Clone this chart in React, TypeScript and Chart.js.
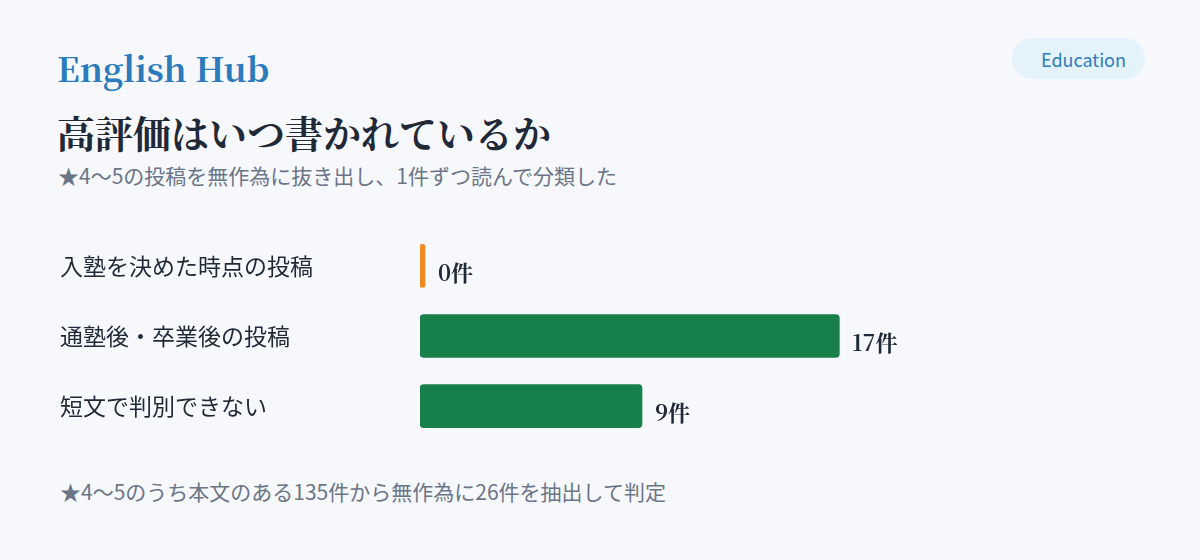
import { useEffect, useRef } from 'react'
import { Chart, registerables } from 'chart.js'

Chart.register(...registerables)

const categories = ['入塾を決めた時点の投稿', '通塾後・卒業後の投稿', '短文で判別できない']
const counts = [0, 17, 9]
const xMax = 30

const SERIF = '"Noto Serif CJK JP", "Noto Serif JP", "Source Han Serif JP", "DejaVu Serif", serif'
const SANS = '"Noto Sans CJK JP", "Noto Sans", sans-serif'

const green = '#177f4a'
const orange = '#f28a22'
const ink = '#1f2937'
const muted = '#6b7588'

// draws "N件" to the right of each bar
const valueLabels = {
  id: 'valueLabels',
  afterDatasetsDraw(chart: Chart) {
    const { ctx } = chart
    const meta = chart.getDatasetMeta(0)
    ctx.save()
    ctx.font = `bold 22px ${SERIF}`
    ctx.fillStyle = ink
    ctx.textAlign = 'left'
    ctx.textBaseline = 'middle'
    meta.data.forEach((bar: any, i) => {
      ctx.fillText(`${counts[i]}件`, bar.x + 13, bar.y + 6.5)
    })
    ctx.restore()
  },
}

function BarChart() {
  const chartRef = useRef<HTMLCanvasElement>(null)
  const chartInstance = useRef<Chart | null>(null)

  useEffect(() => {
    if (!chartRef.current) return
    if (chartInstance.current) chartInstance.current.destroy()
    const ctx = chartRef.current.getContext('2d')
    if (!ctx) return

    chartInstance.current = new Chart(ctx, {
      type: 'bar',
      data: {
        labels: categories,
        datasets: [
          {
            data: counts,
            backgroundColor: counts.map((v) => (v === 0 ? orange : green)),
            borderRadius: 4,
            borderSkipped: false,
            minBarLength: 5,
            barThickness: 43,
          },
        ],
      },
      options: {
        indexAxis: 'y',
        responsive: true,
        maintainAspectRatio: false,
        animation: false,
        layout: { padding: 0 },
        plugins: {
          legend: { display: false },
          tooltip: { enabled: false },
        },
        scales: {
          x: {
            display: false,
            min: 0,
            max: xMax,
          },
          y: {
            grid: { display: false },
            border: { display: false },
            afterFit: (scale) => {
              scale.width = 360
            },
            ticks: {
              crossAlign: 'far',
              padding: 0,
              color: ink,
              font: { family: SANS, size: 23 },
            },
          },
        },
      },
      plugins: [valueLabels],
    })

    return () => {
      if (chartInstance.current) {
        chartInstance.current.destroy()
        chartInstance.current = null
      }
    }
  }, [])

  return (
    <div style={{ position: 'absolute', left: 60, top: 217, width: 1100, height: 238 }}>
      <canvas ref={chartRef} />
    </div>
  )
}

export default function App() {
  return (
    <div
      style={{
        position: 'fixed',
        left: 0,
        top: 0,
        width: 1200,
        height: 560,
        background: '#f6f8fc',
        overflow: 'hidden',
      }}
    >
      <div
        style={{
          position: 'absolute',
          left: 57,
          top: 47,
          fontFamily: SERIF,
          fontWeight: 700,
          fontSize: 34,
          lineHeight: '42px',
          color: '#2b7bbd',
        }}
      >
        English Hub
      </div>
      <div
        style={{
          position: 'absolute',
          left: 1012,
          top: 38,
          width: 133,
          height: 41,
          borderRadius: 21,
          background: '#e4f3fb',
          color: '#2e7cc0',
          fontFamily: SANS,
          fontSize: 18,
          lineHeight: '42px',
          textAlign: 'center',
          paddingLeft: 10,
          boxSizing: 'border-box',
        }}
      >
        Education
      </div>
      <div
        style={{
          position: 'absolute',
          left: 57,
          top: 109,
          fontFamily: SERIF,
          fontWeight: 700,
          fontSize: 38,
          lineHeight: '46px',
          color: ink,
          whiteSpace: 'nowrap',
        }}
      >
        高評価はいつ書かれているか
      </div>
      <div
        style={{
          position: 'absolute',
          left: 58,
          top: 160,
          fontFamily: SANS,
          fontSize: 21,
          lineHeight: '30px',
          color: muted,
          whiteSpace: 'nowrap',
        }}
      >
        ★4〜5の投稿を無作為に抜き出し、1件ずつ読んで分類した
      </div>
      <BarChart />
      <div
        style={{
          position: 'absolute',
          left: 60,
          top: 476,
          fontFamily: SANS,
          fontSize: 21,
          lineHeight: '30px',
          color: muted,
          whiteSpace: 'nowrap',
        }}
      >
        ★4〜5のうち本文のある135件から無作為に26件を抽出して判定
      </div>
    </div>
  )
}
